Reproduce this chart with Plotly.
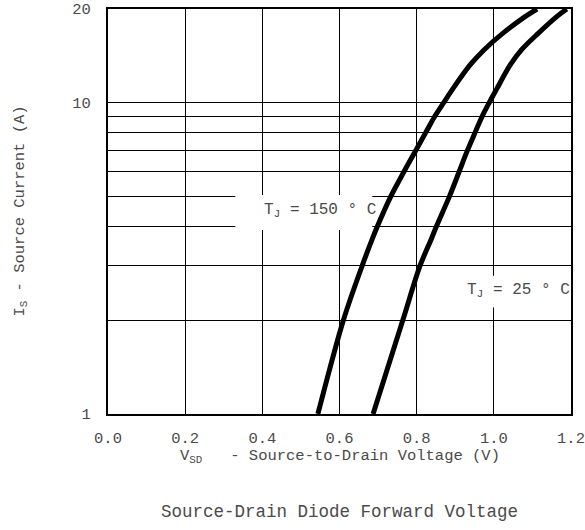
import plotly.graph_objects as go

# Data (source current in A, forward voltage in V)
current_a = [1, 2, 3, 3.65, 4, 5, 6, 7, 8, 9, 10, 11.1, 13.2, 14.8, 16.7, 18.9, 20]
vsd_150c = [0.544, 0.610, 0.659, 0.685, 0.698, 0.733, 0.767, 0.797, 0.823, 0.846, 0.870,
            0.894, 0.938, 0.975, 1.023, 1.081, 1.112]
vsd_25c = [0.687, 0.764, 0.809, 0.838, 0.851, 0.885, 0.910, 0.931, 0.951, 0.969, 0.988,
           1.008, 1.042, 1.072, 1.115, 1.163, 1.189]

x_ticks = [0.0, 0.2, 0.4, 0.6, 0.8, 1.0, 1.2]
x_ticktext = ["0.0", "0.2", "0.4", "0.6", "0.8", "1.0", "1.2"]
y_ticks = [1, 10, 20]
y_ticktext = ["1", "10", "20"]
y_minor_grid = [2, 3, 4, 5, 6, 7, 8, 9]

label_150 = "T<sub>J</sub> = 150 ° C"
label_25 = "T<sub>J</sub> = 25 ° C"
x_title = "V<sub>SD</sub>&nbsp;&nbsp; - Source-to-Drain Voltage (V)"
y_title = "I<sub>S</sub> - Source Current (A)"
chart_title = "Source-Drain Diode Forward Voltage"

FONT = "Liberation Mono"
TXT = "#4a4a4a"

fig = go.Figure()
fig.add_trace(go.Scatter(x=vsd_150c, y=current_a, mode="lines",
                         line=dict(color="black", width=5, shape="spline", smoothing=0.9),
                         name="TJ=150C", showlegend=False))
fig.add_trace(go.Scatter(x=vsd_25c, y=current_a, mode="lines",
                         line=dict(color="black", width=5, shape="spline", smoothing=0.9),
                         name="TJ=25C", showlegend=False))

# white label boxes (between grid and traces)
fig.add_shape(type="rect", xref="x", yref="y", x0=0.330, x1=0.685, y0=3.9, y1=5.05,
              fillcolor="white", line=dict(width=0), layer="between")
fig.add_shape(type="rect", xref="x", yref="y", x0=0.913, x1=1.198, y0=2.2, y1=2.78,
              fillcolor="white", line=dict(width=0), layer="between")

fig.add_annotation(x=0.55, y=0.655, xref="x", yref="y", text=label_150,
                   showarrow=False, font=dict(family=FONT, size=16, color=TXT))
fig.add_annotation(x=1.064, y=0.398, xref="x", yref="y", text=label_25,
                   showarrow=False, font=dict(family=FONT, size=16, color=TXT))

fig.add_annotation(x=0.5, y=-0.106, xref="paper", yref="paper", text=x_title,
                   showarrow=False, yanchor="middle",
                   font=dict(family=FONT, size=15.5, color=TXT))
fig.add_annotation(x=-0.19, y=0.5, xref="paper", yref="paper", text=y_title,
                   showarrow=False, textangle=-90, xanchor="center", yanchor="middle",
                   font=dict(family=FONT, size=15.5, color=TXT))
fig.add_annotation(x=0.5, y=-0.242, xref="paper", yref="paper", text=chart_title,
                   showarrow=False, yanchor="middle",
                   font=dict(family=FONT, size=17.5, color=TXT))

fig.update_xaxes(range=[0, 1.2], tickvals=x_ticks, ticktext=x_ticktext,
                 showgrid=True, gridcolor="black", gridwidth=1,
                 showline=True, linecolor="black", linewidth=2, mirror=True,
                 zeroline=False, ticks="", ticklabelstandoff=8, automargin=False,
                 tickfont=dict(family=FONT, size=15.5, color=TXT))
fig.update_yaxes(type="log", range=[0, 1.30103], tickvals=y_ticks, ticktext=y_ticktext,
                 showgrid=True, gridcolor="black", gridwidth=1,
                 minor=dict(tickvals=y_minor_grid, showgrid=True, gridcolor="black",
                            gridwidth=1, ticks=""),
                 showline=True, linecolor="black", linewidth=2, mirror=True,
                 zeroline=False, ticks="", ticklabelstandoff=12, automargin=False,
                 tickfont=dict(family=FONT, size=15.5, color=TXT))

fig.update_layout(width=585, height=530, margin=dict(l=108, r=14, t=9, b=116),
                  paper_bgcolor="white", plot_bgcolor="white", showlegend=False)

fig.write_html("out.html")
